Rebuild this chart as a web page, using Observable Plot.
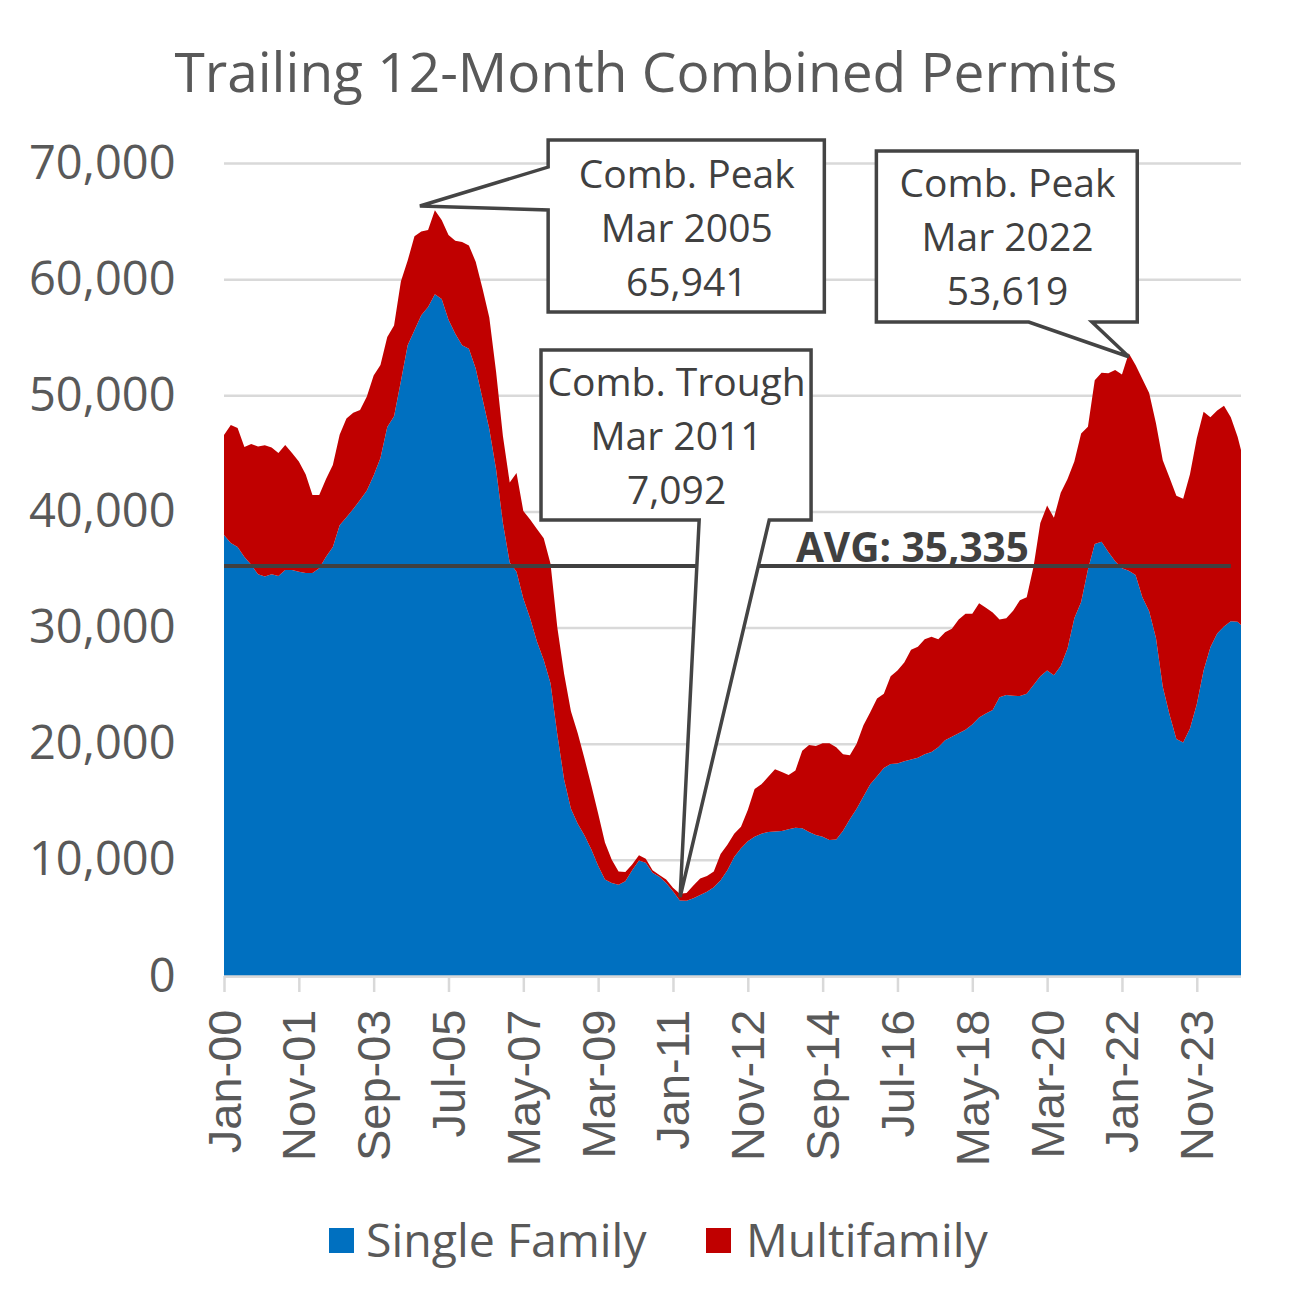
<!DOCTYPE html>
<html>
<head>
<meta charset="utf-8">
<script src="https://cdn.jsdelivr.net/npm/d3@7"></script>
<script src="https://cdn.jsdelivr.net/npm/@observablehq/plot@0.6"></script>
<style>
  body { margin: 0; background: #fff; }
  #wrap { position: relative; width: 1292px; height: 1310px; overflow: hidden; background: #fff; }
  #title { position: absolute; left: 0; top: 43px; width: 1292px; text-align: center;
           font-family: "Open Sans", sans-serif; font-size: 55px; line-height: 55px; color: #595959; white-space: nowrap; }
  #chart { position: absolute; left: 0; top: 120px; }
  .lg-sw { position: absolute; width: 25px; height: 25px; top: 1228px; }
  .lg-tx { position: absolute; top: 1216px; font-family: "Open Sans", sans-serif; font-size: 46.5px; line-height: 46px; color: #595959; white-space: nowrap; }
</style>
</head>
<body>
<div id="wrap">
  <div id="title">Trailing 12-Month Combined Permits</div>
  <div id="chart"></div>
  <div id="legend"></div>
</div>
<script>
// ---- Data ----
const seriesNames = ["Single Family", "Multifamily"];
const seriesColors = ["#0070C0", "#C00000"];

const dates = [
"2000-01","2000-03","2000-05","2000-07","2000-09","2000-11",
"2001-01","2001-03","2001-05","2001-07","2001-09","2001-11",
"2002-01","2002-03","2002-05","2002-07","2002-09","2002-11",
"2003-01","2003-03","2003-05","2003-07","2003-09","2003-11",
"2004-01","2004-03","2004-05","2004-07","2004-09","2004-11",
"2005-01","2005-03","2005-05","2005-07","2005-09","2005-11",
"2006-01","2006-03","2006-05","2006-07","2006-09","2006-11",
"2007-01","2007-03","2007-05","2007-07","2007-09","2007-11",
"2008-01","2008-03","2008-05","2008-07","2008-09","2008-11",
"2009-01","2009-03","2009-05","2009-07","2009-09","2009-11",
"2010-01","2010-03","2010-05","2010-07","2010-09","2010-11",
"2011-01","2011-03","2011-05","2011-07","2011-09","2011-11",
"2012-01","2012-03","2012-05","2012-07","2012-09","2012-11",
"2013-01","2013-03","2013-05","2013-07","2013-09","2013-11",
"2014-01","2014-03","2014-05","2014-07","2014-09","2014-11",
"2015-01","2015-03","2015-05","2015-07","2015-09","2015-11",
"2016-01","2016-03","2016-05","2016-07","2016-09","2016-11",
"2017-01","2017-03","2017-05","2017-07","2017-09","2017-11",
"2018-01","2018-03","2018-05","2018-07","2018-09","2018-11",
"2019-01","2019-03","2019-05","2019-07","2019-09","2019-11",
"2020-01","2020-03","2020-05","2020-07","2020-09","2020-11",
"2021-01","2021-03","2021-05","2021-07","2021-09","2021-11",
"2022-01","2022-03","2022-05","2022-07","2022-09","2022-11",
"2023-01","2023-03","2023-05","2023-07","2023-09","2023-11",
"2024-01","2024-03","2024-05","2024-07","2024-09","2024-11",
"2024-12"];

const singleFamily = [
37970,37280,36940,36080,35400,34600,
34400,34600,34450,34960,34960,34800,
34700,34700,35100,36100,36940,38800,
39500,40200,40980,41800,43100,44600,
47270,48200,51200,54300,55600,56900,
57600,58700,58300,56500,55300,54300,
54000,52300,49700,47100,43600,39000,
35600,34800,32500,30800,28800,27200,
25200,20800,16900,14400,13100,12100,
10900,9500,8300,8000,7850,8150,
9100,9950,9750,8900,8550,8000,
7300,6500,6480,6700,6970,7250,
7650,8250,9100,10250,10990,11600,
11990,12250,12400,12450,12480,12630,
12770,12720,12400,12130,11990,11710,
11750,12500,13500,14400,15450,16500,
17200,17900,18250,18300,18500,18650,
18800,19100,19280,19700,20300,20600,
20900,21200,21650,22250,22600,22900,
24000,24200,24120,24100,24300,25060,
25800,26300,25900,26700,28200,30800,
32200,35000,37200,37390,36500,35700,
35100,34900,34530,32600,31400,29100,
24900,22500,20400,20100,21300,23400,
26300,28300,29500,30100,30550,30500,
30220];

const multifamily = [
8610,10160,10240,9470,10400,11000,
11300,10900,10580,10760,10070,9500,
8500,6710,6310,6700,7060,7800,
8500,8300,7750,8100,8600,8000,
7750,7800,8600,7300,8100,7200,
6630,7241,6800,7300,8000,8900,
8900,9200,9500,9600,8400,7500,
6900,8500,7540,8500,9690,10500,
10300,9200,9100,8400,7800,6600,
5500,4500,3200,2000,1150,800,
500,450,350,200,150,300,
300,592,670,1100,1430,1350,
1350,2250,2200,2000,1860,2700,
4110,4250,4750,5350,5090,4670,
4930,6680,7490,7670,8060,8340,
7950,6600,5500,5600,6150,6200,
6700,6400,7550,8000,8500,9450,
9550,9900,9920,9300,9300,9300,
9800,10000,9550,9850,9100,8400,
6700,6600,7330,8250,8300,10180,
13200,14200,13550,14900,14600,13500,
14500,12300,14100,14560,15400,16480,
16700,18719,18080,18800,18800,18500,
19500,20400,20950,21000,21900,22900,
22290,19800,19200,19000,17550,15930,
15070];

const yTicks = [0, 10000, 20000, 30000, 40000, 50000, 60000, 70000];
const xTickDates = ["2000-01","2001-11","2003-09","2005-07","2007-05","2009-03","2011-01",
                    "2012-11","2014-09","2016-07","2018-05","2020-03","2022-01","2023-11"];
const xTickLabels = ["Jan-00","Nov-01","Sep-03","Jul-05","May-07","Mar-09","Jan-11",
                     "Nov-12","Sep-14","Jul-16","May-18","Mar-20","Jan-22","Nov-23"];

const avgValue = 35335;
const avgEndDate = "2024-09";
const avgLabelDate = "2019-09";

// callout annotations: [title, date text, value]
const calloutTitles = ["Comb. Peak", "Comb. Trough", "Comb. Peak"];
const calloutDates  = ["Mar 2005", "Mar 2011", "Mar 2022"];
const calloutValues = [65941, 7092, 53619];
// callout outlines in data space (month index since Jan 2000, permits)
const calloutShapes = [
  [[95.3,71980],[176.5,71980],[176.5,57170],[95.3,57170],[95.3,65950],[57.6,66300],[95.3,69650]],
  [[93.2,53900],[172.6,53900],[172.6,39260],[160.3,39260],[134.1,6800],[139.7,39260],[93.2,39260]],
  [[191.8,71030],[268.5,71030],[268.5,56310],[255.2,56310],[266.0,53320],[236.6,56310],[191.8,56310]]
];
const calloutCenters = [[135.9, 64320], [132.9, 46410], [230.2, 63540]];

// ---- Build ----
const monthIndex = s => (+s.slice(0, 4) - 2000) * 12 + (+s.slice(5, 7) - 1);
const rows = [];
dates.forEach((d, i) => rows.push({m: monthIndex(d), value: singleFamily[i], series: seriesNames[0]}));
dates.forEach((d, i) => rows.push({m: monthIndex(d), value: multifamily[i], series: seriesNames[1]}));
const xTicks = xTickDates.map(monthIndex);
const fmt = d3.format(",");

const calloutRows = calloutTitles.map((t, i) => ({
  m: calloutCenters[i][0], v: calloutCenters[i][1],
  text: t + "\n" + calloutDates[i] + "\n" + fmt(calloutValues[i])
}));

function calloutBoxes(index, scales) {
  const g = d3.create("svg:g");
  for (const shape of calloutShapes) {
    const pts = shape.map(([m, v]) => [scales.x(m), scales.y(v)]);
    g.append("path")
      .attr("d", "M" + pts.map(p => p.join(",")).join("L") + "Z")
      .attr("fill", "white")
      .attr("stroke", "#444444")
      .attr("stroke-width", 3.5)
      .attr("stroke-linejoin", "miter");
  }
  return g.node();
}

const chart = Plot.plot({
  width: 1292,
  height: 1080,
  marginTop: 43,
  marginBottom: 224,
  marginLeft: 224,
  marginRight: 51,
  x: {domain: [0, 299], axis: null},
  y: {domain: [0, 70000], axis: null},
  color: {domain: seriesNames, range: seriesColors},
  style: {fontFamily: "Open Sans", background: "white", overflow: "visible"},
  marks: [
    Plot.ruleY(yTicks, {stroke: "#d9d9d9", strokeWidth: 2.5}),
    Plot.areaY(rows, {x: "m", y: "value", z: "series", fill: "series", order: seriesNames}),
    Plot.ruleY([0], {stroke: "#d9d9d9", strokeWidth: 2.5}),
    Plot.axisX({ticks: xTicks, tickSize: 16, tickFormat: () => "", label: null, stroke: "#d9d9d9", strokeWidth: 2.5}),
    Plot.text(xTicks, {x: d => d, frameAnchor: "bottom", text: (d, i) => xTickLabels[i],
      rotate: -90, textAnchor: "end", dx: 16, dy: 33, fontSize: 47, fontFamily: "Liberation Sans, Arial, sans-serif", fill: "#595959"}),
    Plot.text(yTicks, {y: d => d, frameAnchor: "left", text: d => fmt(d), textAnchor: "end",
      dx: -49, fontSize: 47, fontFamily: "Open Sans", fill: "#595959"}),
    Plot.ruleY([avgValue], {x1: 0, x2: monthIndex(avgEndDate), stroke: "#404040", strokeWidth: 4}),
    Plot.text([avgValue], {x: monthIndex(avgLabelDate) + 0.5, y: d => d, text: d => "AVG: " + fmt(d),
      textAnchor: "end", lineAnchor: "bottom", dy: -4, fontSize: 40.5, fontWeight: "bold", fill: "#404040"}),
    calloutBoxes,
    Plot.text(calloutRows, {x: "m", y: "v", text: "text", lineAnchor: "middle", lineHeight: 1.38,
      dy: -5, fontSize: 39, fill: "#404040", fontFamily: "Open Sans"})
  ]
});
document.getElementById("chart").appendChild(chart);

// legend
const legend = document.getElementById("legend");
const lgPos = [[329, 366], [706, 746]];
seriesNames.forEach((name, i) => {
  const sw = document.createElement("div");
  sw.className = "lg-sw";
  sw.style.left = lgPos[i][0] + "px";
  sw.style.background = seriesColors[i];
  const tx = document.createElement("div");
  tx.className = "lg-tx";
  tx.style.left = lgPos[i][1] + "px";
  tx.textContent = name;
  legend.appendChild(sw);
  legend.appendChild(tx);
});
</script>
</body>
</html>
